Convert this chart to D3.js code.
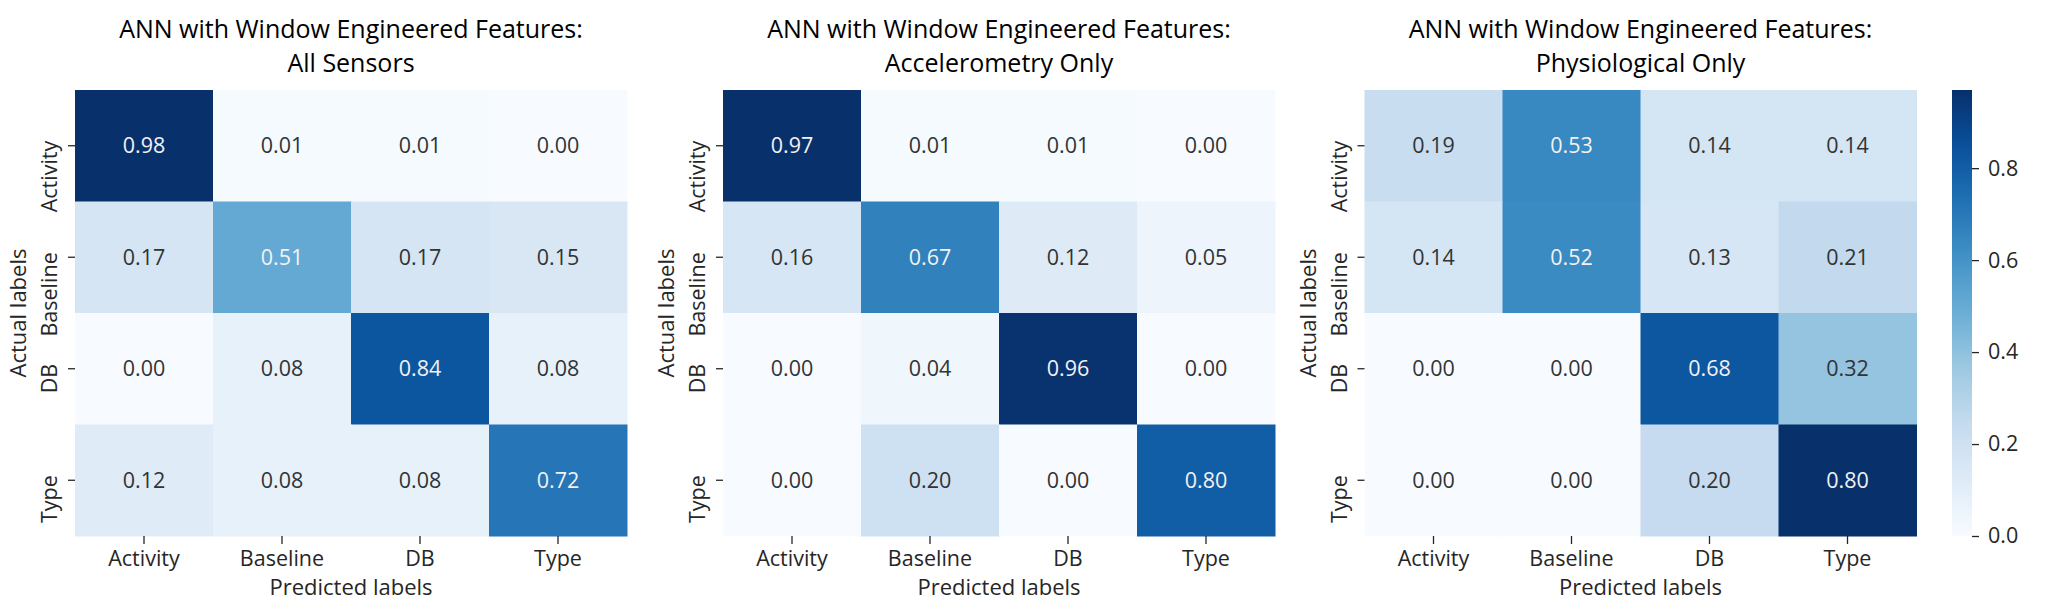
<!DOCTYPE html>
<html>
<head>
<meta charset="utf-8">
<script src="https://cdn.jsdelivr.net/npm/d3@7"></script>
<style>
  html, body { margin: 0; padding: 0; background: #fff; }
  svg { display: block; font-family: "Open Sans", "Noto Sans", sans-serif; }
</style>
</head>
<body>
<svg id="chart" width="2046" height="610"></svg>
<script>
// ---------- data ----------
const categories = ["Activity", "Baseline", "DB", "Type"];
const titleLine1 = "ANN with Window Engineered Features:";
const subtitles = ["All Sensors", "Accelerometry Only", "Physiological Only"];
const allSensors = [
  [0.98, 0.01, 0.01, 0.00],
  [0.17, 0.51, 0.17, 0.15],
  [0.00, 0.08, 0.84, 0.08],
  [0.12, 0.08, 0.08, 0.72]
];
const accelerometryOnly = [
  [0.97, 0.01, 0.01, 0.00],
  [0.16, 0.67, 0.12, 0.05],
  [0.00, 0.04, 0.96, 0.00],
  [0.00, 0.20, 0.00, 0.80]
];
const physiologicalOnly = [
  [0.19, 0.53, 0.14, 0.14],
  [0.14, 0.52, 0.13, 0.21],
  [0.00, 0.00, 0.68, 0.32],
  [0.00, 0.00, 0.20, 0.80]
];
const colorbarTicks = [0.0, 0.2, 0.4, 0.6, 0.8];
const colorbarMax = 0.97;
const xAxisLabel = "Predicted labels";
const yAxisLabel = "Actual labels";

// ---------- layout ----------
const panels = [
  { data: allSensors, left: 75 },
  { data: accelerometryOnly, left: 723 },
  { data: physiologicalOnly, left: 1364.5 }
];
const plotTop = 90, W = 552, H = 446;
const textDark = "#262626";

// matplotlib "Blues" (linear through ColorBrewer stops)
const bluesStops = ["#f7fbff","#deebf7","#c6dbef","#9ecae1","#6baed6","#4292c6","#2171b5","#08519c","#08306b"];
const blues = d3.scaleLinear()
  .domain(d3.range(bluesStops.length).map(i => i / (bluesStops.length - 1)))
  .range(bluesStops).interpolate(d3.interpolateRgb).clamp(true);

function luminance(c) {
  const rgb = d3.rgb(c);
  const f = v => { v /= 255; return v <= 0.03928 ? v / 12.92 : Math.pow((v + 0.055) / 1.055, 2.4); };
  return 0.2126 * f(rgb.r) + 0.7152 * f(rgb.g) + 0.0722 * f(rgb.b);
}

const svg = d3.select("#chart");
svg.append("rect").attr("width", 2046).attr("height", 610).attr("fill", "#fff");

panels.forEach((p, pi) => {
  const g = svg.append("g").attr("transform", `translate(${p.left},${plotTop})`);
  const x = d3.scaleBand().domain(categories).range([0, W]);
  const y = d3.scaleBand().domain(categories).range([0, H]);
  const flat = p.data.flat();
  const norm = d3.scaleLinear().domain([d3.min(flat), d3.max(flat)]).range([0, 1]);

  const cells = [];
  p.data.forEach((row, ri) => row.forEach((v, ci) => cells.push({ r: categories[ri], c: categories[ci], v })));

  g.selectAll("rect.cell").data(cells).join("rect")
    .attr("class", "cell")
    .attr("x", d => x(d.c)).attr("y", d => y(d.r))
    .attr("width", x.bandwidth() + 0.5).attr("height", y.bandwidth() + 0.5)
    .attr("fill", d => blues(norm(d.v)));

  g.selectAll("text.val").data(cells).join("text")
    .attr("class", "val")
    .attr("x", d => x(d.c) + x.bandwidth() / 2)
    .attr("y", d => y(d.r) + y.bandwidth() / 2)
    .attr("dy", "0.36em")
    .attr("text-anchor", "middle")
    .attr("font-size", 21.5)
    .attr("fill", d => luminance(blues(norm(d.v))) > 0.408 ? "#333" : "#f2f2f2")
    .text(d => d3.format(".2f")(d.v));

  // x axis
  const xa = g.append("g").attr("transform", `translate(0,${H})`)
    .call(d3.axisBottom(x).tickSize(8).tickPadding(8));
  xa.select(".domain").remove();
  xa.selectAll(".tick line").attr("stroke", textDark).attr("stroke-width", 1.3);
  xa.selectAll(".tick text").attr("font-size", 21.5).attr("fill", textDark)
    .attr("font-family", "Open Sans").attr("y", 0).attr("dy", 0)
    .attr("transform", "translate(0,30)");

  // y axis
  const ya = g.append("g").call(d3.axisLeft(y).tickSize(7).tickPadding(0));
  ya.select(".domain").remove();
  ya.selectAll(".tick line").attr("stroke", textDark).attr("stroke-width", 1.3);
  ya.selectAll(".tick text").attr("font-size", 21.5).attr("fill", textDark)
    .attr("font-family", "Open Sans")
    .attr("x", 0).attr("y", 0).attr("dy", 0)
    .attr("text-anchor", "end")
    .attr("transform", "translate(-18,-5) rotate(-90)");

  // axis labels
  g.append("text").attr("x", W / 2).attr("y", H + 59)
    .attr("text-anchor", "middle").attr("font-size", 22).attr("fill", textDark)
    .text(xAxisLabel);
  g.append("text").attr("transform", `translate(-49,${H / 2}) rotate(-90)`)
    .attr("text-anchor", "middle").attr("font-size", 22).attr("fill", textDark)
    .text(yAxisLabel);

  // titles
  g.append("text").attr("x", W / 2).attr("y", 37.5 - plotTop)
    .attr("text-anchor", "middle").attr("font-size", 25).attr("fill", "#000")
    .text(titleLine1);
  g.append("text").attr("x", W / 2).attr("y", 71.5 - plotTop)
    .attr("text-anchor", "middle").attr("font-size", 25).attr("fill", "#000")
    .text(subtitles[pi]);
});

// ---------- colorbar ----------
const cbX = 1952, cbW = 20;
const cbScale = d3.scaleLinear().domain([0, colorbarMax]).range([plotTop + H, plotTop]);
const defs = svg.append("defs");
const grad = defs.append("linearGradient").attr("id", "cbgrad")
  .attr("x1", 0).attr("y1", 1).attr("x2", 0).attr("y2", 0);
d3.range(0, 1.0001, 0.05).forEach(t => {
  grad.append("stop").attr("offset", t).attr("stop-color", blues(t));
});
svg.append("rect").attr("x", cbX).attr("y", plotTop).attr("width", cbW).attr("height", H)
  .attr("fill", "url(#cbgrad)");
const cba = svg.append("g").attr("transform", `translate(${cbX + cbW},0)`)
  .call(d3.axisRight(cbScale).tickValues(colorbarTicks).tickFormat(d3.format(".1f")).tickSize(7).tickPadding(9));
cba.select(".domain").remove();
cba.selectAll(".tick line").attr("stroke", textDark).attr("stroke-width", 1.3);
cba.selectAll(".tick text").attr("font-size", 21.5).attr("fill", textDark).attr("font-family", "Open Sans");
</script>
</body>
</html>
